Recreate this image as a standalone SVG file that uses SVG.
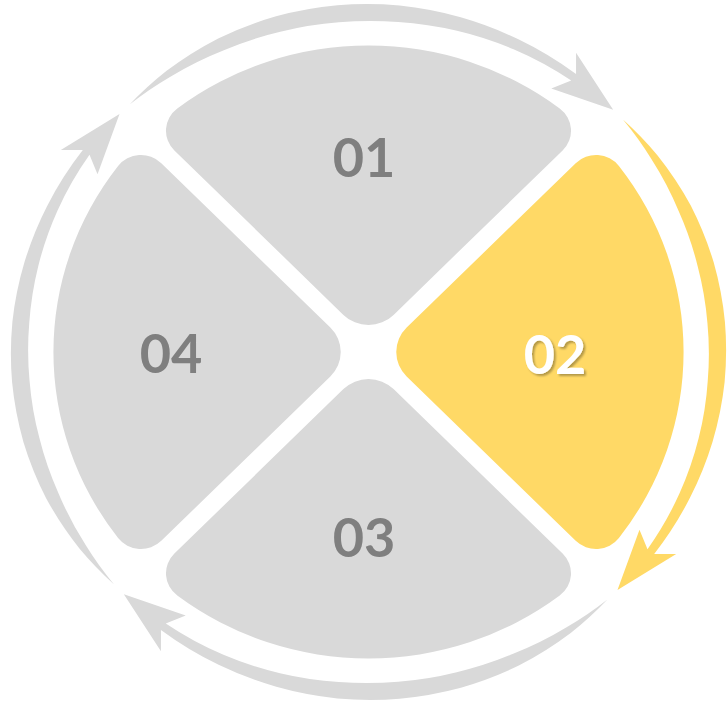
<svg xmlns="http://www.w3.org/2000/svg" width="728" height="703" viewBox="0 0 728 703">
<style>
.grey{fill:#D9D9D9}
.yellow{fill:#FFD966}
.lbl{font-family:Lato,"Open Sans","Liberation Sans",sans-serif;font-weight:700;font-size:54px;text-anchor:middle}
.dark{fill:#7F7F7F}
.white{fill:#FFFFFF}
</style>
<defs>
<path id="petal" d="M -24.4,-37.12 L -188.82,-201.55 A 28 28 0 0 1 -186.0,-243.6 A 306.5 306.5 0 0 1 186.0,-243.6 A 28 28 0 0 1 188.82,-201.55 L 24.4,-37.12 A 34.5 34.5 0 0 1 -24.4,-37.12 Z"/>
<path id="arrow" d="M -232.4,-247.5 A 343 343 0 0 1 -196.7,-281.0 A 346 346 0 0 1 -146.2,-313.6 A 347 347 0 0 1 -89.9,-335.7 A 348 348 0 0 1 -30.3,-346.7 A 348 348 0 0 1 30.3,-346.4 A 347 347 0 0 1 89.7,-334.7 A 346 346 0 0 1 145.8,-312.7 A 344 344 0 0 1 201.9,-277.9 L 201.9,-299.3 L 238.0,-242.2 L 177.8,-263.6 L 197.2,-271.4 A 335 335 0 0 0 141.1,-302.7 A 333 333 0 0 0 86.1,-321.2 A 332 332 0 0 0 28.9,-330.0 A 331 331 0 0 0 -28.9,-329.7 A 332 332 0 0 0 -85.8,-320.2 A 333 333 0 0 0 -140.7,-301.8 A 336 336 0 0 0 -192.7,-275.3 A 338 338 0 0 0 -232.4,-247.5 Z"/>
<filter id="shadow" x="-20%" y="-20%" width="140%" height="140%">
<feDropShadow dx="2" dy="2" stdDeviation="1.2" flood-color="#000000" flood-opacity="0.3"/>
</filter>
</defs>
<g id="connectors">
<use href="#arrow" class="grey" transform="translate(368.5,352) scale(1.028,1)"/>
<use href="#arrow" class="yellow" transform="translate(368.5,352) scale(1.028,1) rotate(90)"/>
<use href="#arrow" class="grey" transform="translate(368.5,352) scale(1.028,1) rotate(180)"/>
<use href="#arrow" class="grey" transform="translate(368.5,352) scale(1.028,1) rotate(270)"/>
</g>
<g id="node-01">
<use href="#petal" class="grey" transform="translate(368.5,352) scale(1.028,1)"/>
<text class="lbl dark" x="364" y="177">01</text>
</g>
<g id="node-02">
<use href="#petal" class="yellow" transform="translate(368.5,352) scale(1.028,1) rotate(90)"/>
<text class="lbl white" x="555" y="374" filter="url(#shadow)">02</text>
</g>
<g id="node-03">
<use href="#petal" class="grey" transform="translate(368.5,352) scale(1.028,1) rotate(180)"/>
<text class="lbl dark" x="364" y="557">03</text>
</g>
<g id="node-04">
<use href="#petal" class="grey" transform="translate(368.5,352) scale(1.028,1) rotate(270)"/>
<text class="lbl dark" x="171" y="373">04</text>
</g>
</svg>
